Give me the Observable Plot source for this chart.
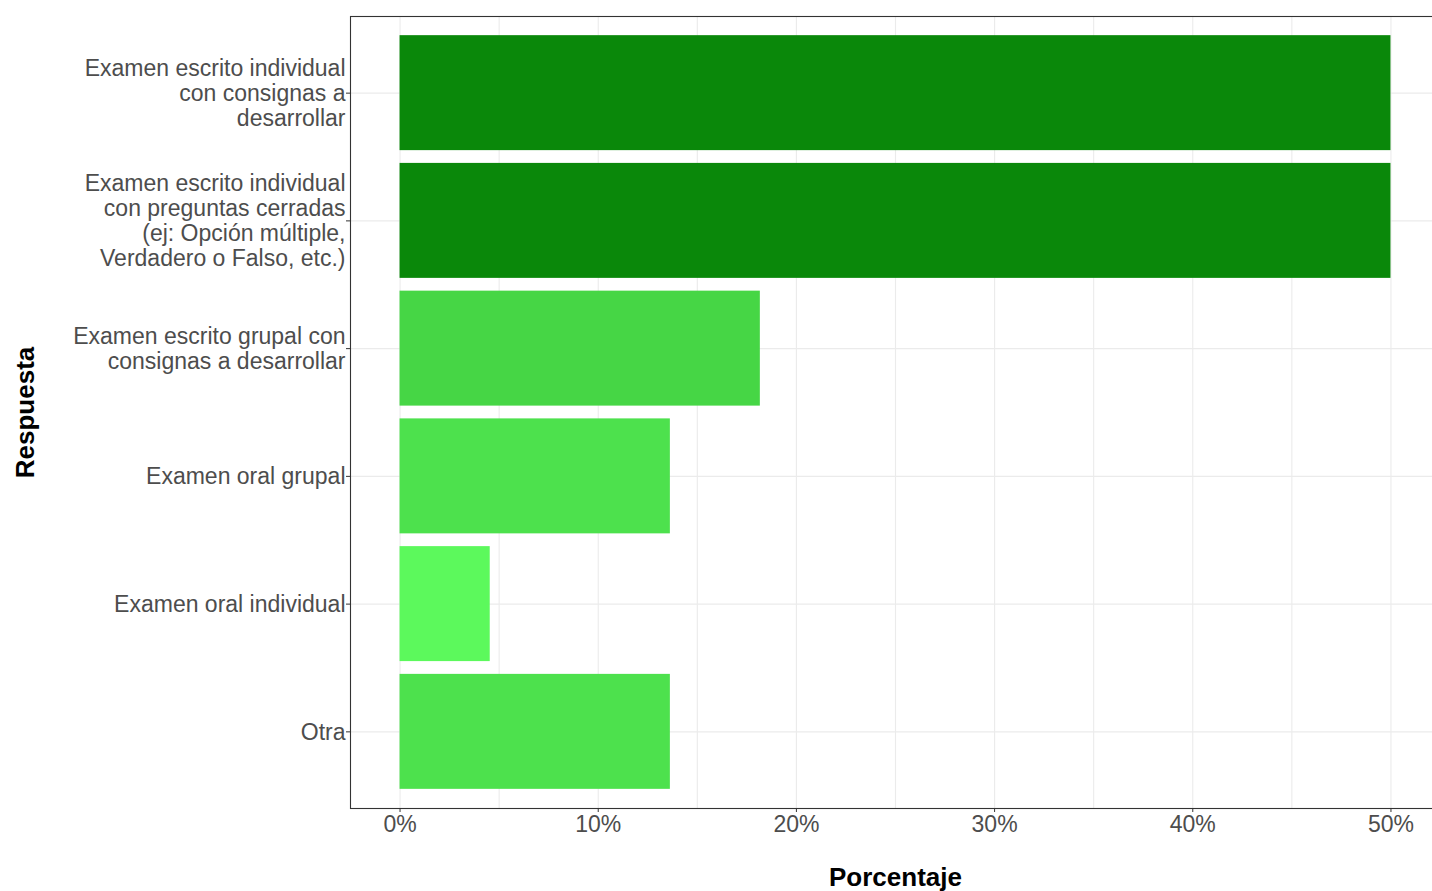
<!DOCTYPE html>
<html>
<head>
<meta charset="utf-8">
<script src="https://cdn.jsdelivr.net/npm/d3@7"></script>
<script src="https://cdn.jsdelivr.net/npm/@observablehq/plot@0.6"></script>
<style>
  html, body { margin: 0; padding: 0; background: white; overflow: hidden; }
  #chart { width: 1432px; height: 891px; overflow: hidden; }
  #chart svg { max-width: none !important; }
</style>
</head>
<body>
<div id="chart"></div>
<script>
const categories = [
  "Examen escrito individual\ncon consignas a\ndesarrollar",
  "Examen escrito individual\ncon preguntas cerradas\n(ej: Opción múltiple,\nVerdadero o Falso, etc.)",
  "Examen escrito grupal con\nconsignas a desarrollar",
  "Examen oral grupal",
  "Examen oral individual",
  "Otra"
];
const values = [50, 50, 18.18, 13.64, 4.55, 13.64];
const xTicks = [0, 10, 20, 30, 40, 50];
const gridTicks = [0, 5, 10, 15, 20, 25, 30, 35, 40, 45, 50];

const data = categories.map((c, i) => ({cat: c, value: values[i]}));

const chart = Plot.plot({
  width: 1440,
  height: 891,
  marginLeft: 350,
  marginTop: 16,
  marginBottom: 83,
  marginRight: 0,
  style: {fontFamily: "'Liberation Sans', Arial, sans-serif", background: "white", overflow: "visible", maxWidth: "none"},
  x: {domain: [-2.5, 52.5]},
  y: {domain: categories, paddingInner: 0.1, paddingOuter: 0.15, round: false},
  color: {type: "linear", domain: [4.55, 50], range: ["#5cf95c", "#0a880a"], interpolate: "lab"},
  marks: [
    Plot.gridX(gridTicks, {stroke: "#ebebeb", strokeOpacity: 1, strokeWidth: 1.1}),
    Plot.gridY({stroke: "#ebebeb", strokeOpacity: 1, strokeWidth: 1.1}),
    Plot.barX(data, {x: "value", y: "cat", fill: "value"}),
    Plot.frame({stroke: "#333333", strokeWidth: 1.1}),
    Plot.axisX(xTicks, {tickFormat: d => d + "%", fontSize: 23, fill: "#4d4d4d", stroke: "#333333", tickSize: 4, tickPadding: 3, label: null}),
    Plot.axisY({fontSize: 23, fill: "#4d4d4d", stroke: "#333333", tickSize: 4, tickPadding: 1, lineHeight: 1.087, label: null}),
    Plot.text(["Respuesta"], {frameAnchor: "left", dx: -325, rotate: -90, textAnchor: "middle", lineAnchor: "middle", fontSize: 26, fontWeight: "bold", fill: "black"}),
    Plot.text(["Porcentaje"], {frameAnchor: "bottom", dy: 69, textAnchor: "middle", lineAnchor: "middle", fontSize: 26, fontWeight: "bold", fill: "black"})
  ]
});
document.getElementById("chart").appendChild(chart);
</script>
</body>
</html>
